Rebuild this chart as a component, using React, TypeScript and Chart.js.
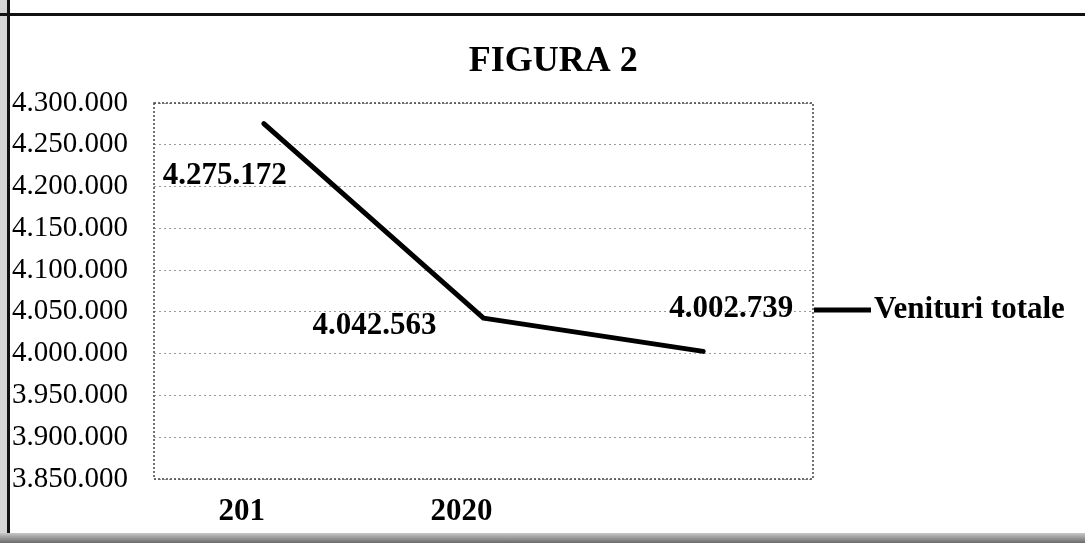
import React, { useEffect, useRef } from "react";
import { Chart, registerables } from "chart.js";

Chart.register(...registerables);

const TITLE = "FIGURA 2";
const SERIES_LABEL = "Venituri totale";
const YEARS = ["201", "2020", ""];
const VENITURI = [4275172, 4042563, 4002739];
const Y_MIN = 3850000;
const Y_MAX = 4300000;
const Y_STEP = 50000;
// manual label placement (pixel offsets from each point), like the original
const LABEL_OFFSETS = [
  [-39, 52],
  [-109, 8],
  [28, -42],
];

const SERIF = "'Liberation Serif', 'Times New Roman', serif";

const fmt = (n: number) =>
  Math.round(n)
    .toString()
    .replace(/\B(?=(\d{3})+(?!\d))/g, ".");

const frameTitle = {
  id: "frameTitle",
  afterDraw(chart: any) {
    const { ctx } = chart;
    ctx.save();
    ctx.fillStyle = "#000";
    ctx.font = `bold 36px ${SERIF}`;
    ctx.textAlign = "center";
    ctx.textBaseline = "middle";
    ctx.fillText(TITLE, chart.width * 0.51, 62);
    ctx.restore();
  },
};

const plotBorder = {
  id: "plotBorder",
  beforeDatasetsDraw(chart: any) {
    const { ctx, chartArea: a } = chart;
    ctx.save();
    ctx.strokeStyle = "#444";
    ctx.lineWidth = 1.5;
    ctx.setLineDash([2, 2]);
    ctx.strokeRect(a.left, a.top, a.right - a.left, a.bottom - a.top);
    ctx.restore();
  },
};

const dataLabels = {
  id: "dataLabels",
  afterDatasetsDraw(chart: any) {
    const { ctx } = chart;
    const meta = chart.getDatasetMeta(0);
    const data = chart.data.datasets[0].data as number[];
    ctx.save();
    ctx.fillStyle = "#000";
    ctx.font = `bold 31px ${SERIF}`;
    ctx.textAlign = "center";
    ctx.textBaseline = "middle";
    meta.data.forEach((el: any, i: number) => {
      const [dx, dy] = LABEL_OFFSETS[i] || [0, 0];
      ctx.fillText(fmt(data[i]), el.x + dx, el.y + dy);
    });
    ctx.restore();
  },
};

const sideLegend = {
  id: "sideLegend",
  afterDraw(chart: any) {
    const { ctx, chartArea: a } = chart;
    const ds = chart.data.datasets[0];
    const y = (a.top + a.bottom) / 2 + 19;
    const x0 = a.right + 1;
    ctx.save();
    ctx.strokeStyle = ds.borderColor;
    ctx.lineWidth = 5;
    ctx.beginPath();
    ctx.moveTo(x0, y);
    ctx.lineTo(x0 + 57, y);
    ctx.stroke();
    ctx.fillStyle = "#000";
    ctx.font = `bold 31px ${SERIF}`;
    ctx.textAlign = "left";
    ctx.textBaseline = "middle";
    ctx.fillText(ds.label, x0 + 60, y);
    ctx.restore();
  },
};

export default function App() {
  const ref = useRef<HTMLCanvasElement | null>(null);

  useEffect(() => {
    if (!ref.current) return;
    const chart = new Chart(ref.current, {
      type: "line",
      data: {
        labels: YEARS,
        datasets: [
          {
            label: SERIES_LABEL,
            data: VENITURI,
            borderColor: "#000",
            borderWidth: 5,
            pointRadius: 0,
            tension: 0,
            fill: false,
            borderCapStyle: "round",
            borderJoinStyle: "round",
          },
        ],
      },
      options: {
        animation: false,
        responsive: false,
        layout: { padding: { left: 8, right: 272, top: 103, bottom: 0 } },
        plugins: {
          legend: { display: false },
          title: { display: false },
          tooltip: { enabled: false },
        },
        scales: {
          x: {
            offset: true,
            grid: { display: false, drawTicks: false },
            border: { display: false },
            ticks: {
              color: "#000",
              font: { family: SERIF, size: 31, weight: "bold" },
              padding: 14,
              labelOffset: -22,
              maxRotation: 0,
              autoSkip: false,
            },
            afterFit: (s: any) => {
              s.height = 64;
            },
          },
          y: {
            min: Y_MIN,
            max: Y_MAX,
            ticks: {
              stepSize: Y_STEP,
              color: "#000",
              font: { family: SERIF, size: 29 },
              padding: 26,
              callback: (v: any) => fmt(Number(v)),
            },
            grid: { color: "#9a9a9a", drawTicks: false, tickLength: 0 },
            border: { display: false, dash: [2, 3] },
            afterFit: (s: any) => {
              s.width = 146;
            },
          },
        },
      },
      plugins: [frameTitle, plotBorder, dataLabels, sideLegend],
    });
    return () => chart.destroy();
  }, []);

  return (
    <div
      style={{
        position: "fixed",
        left: 0,
        top: 0,
        width: 1085,
        height: 543,
        background: "#fff",
        overflow: "hidden",
      }}
    >
      <canvas
        ref={ref}
        width={1085}
        height={543}
        style={{ position: "absolute", left: 0, top: 0, display: "block" }}
      />
      <div style={{ position: "absolute", left: 0, top: 0, width: 7, height: 543, background: "#d4d4d4" }} />
      <div style={{ position: "absolute", left: 7, top: 0, width: 3, height: 543, background: "#111" }} />
      <div style={{ position: "absolute", left: 0, top: 13, width: 1085, height: 3, background: "#111" }} />
      <div style={{ position: "absolute", left: 0, top: 533, width: 1085, height: 10, background: "linear-gradient(#c8c8c8, #6a6a6a)" }} />
    </div>
  );
}
